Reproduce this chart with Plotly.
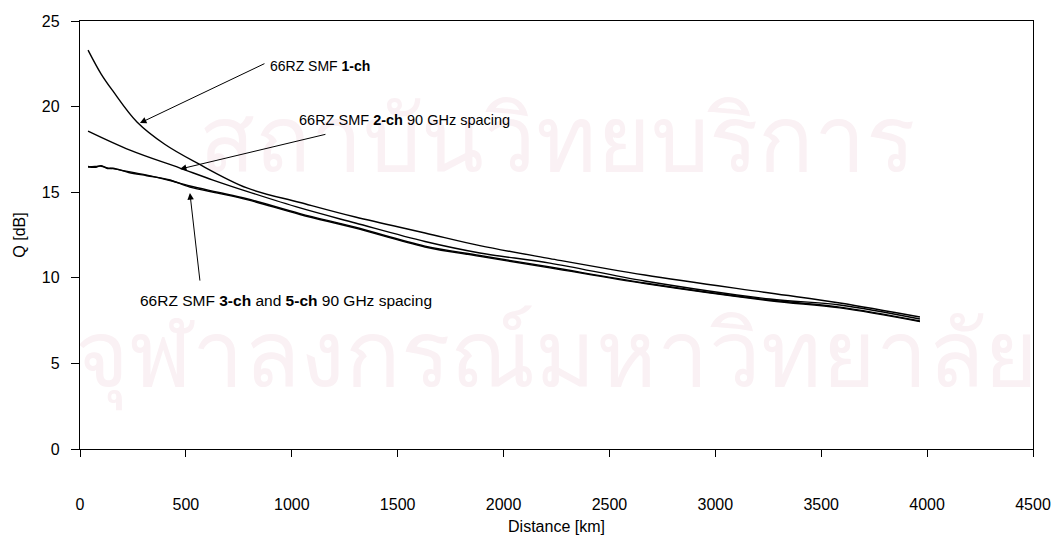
import plotly.graph_objects as go

# Distance [km] and Q [dB] values
dist_1ch = [38, 100, 156, 269, 400, 552, 788, 1039, 1300, 1629, 1888, 2219, 2667, 3257, 3588, 3966]
q_1ch = [23.3, 21.9, 20.9, 19.1, 17.8, 16.71, 15.25, 14.4, 13.55, 12.62, 11.88, 11.12, 10.16, 9.11, 8.53, 7.71]

dist_2ch = [38, 236, 472, 628, 788, 1039, 1300, 1629, 1888, 2219, 2667, 3257, 3588, 3966]
q_2ch = [18.57, 17.46, 16.41, 15.71, 15.05, 14.08, 13.2, 12.12, 11.45, 10.86, 9.81, 8.76, 8.41, 7.59]

dist_3ch = [38, 70, 100, 130, 156, 230, 316, 420, 519, 650, 788, 1039, 1300, 1629, 1888, 2219, 2667, 3257, 3588, 3966]
q_3ch = [16.47, 16.5, 16.52, 16.42, 16.38, 16.2, 16.0, 15.7, 15.36, 15.0, 14.62, 13.75, 12.95, 11.85, 11.3, 10.63, 9.7, 8.7, 8.29, 7.48]

q_5ch = [16.5, 16.45, 16.55, 16.38, 16.4, 16.15, 15.96, 15.73, 15.3, 14.95, 14.57, 13.7, 12.9, 11.8, 11.25, 10.58, 9.66, 8.66, 8.24, 7.44]

x_ticks = [0, 500, 1000, 1500, 2000, 2500, 3000, 3500, 4000, 4500]
y_ticks = [0, 5, 10, 15, 20, 25]

watermark_text = ["สถาบันวิทยบริการ", "จุฬาลงกรณ์มหาวิทยาลัย"]
watermark_x = [2250, 2250]
watermark_y = [17.6, 5.0]

FONT = "Liberation Sans, Arial, sans-serif"

fig = go.Figure()
# faint watermark drawn first so the curves sit on top
fig.add_trace(go.Scatter(x=watermark_x, y=watermark_y, mode="text", text=watermark_text,
                         textfont=dict(size=92, color="#faf1f4", family="Noto Sans, sans-serif"),
                         showlegend=False, hoverinfo="skip", cliponaxis=False))

for xs, ys in [(dist_1ch, q_1ch), (dist_2ch, q_2ch), (dist_3ch, q_3ch), (dist_3ch, q_5ch)]:
    fig.add_trace(go.Scatter(x=xs, y=ys, mode="lines",
                             line=dict(color="black", width=1.4, shape="spline", smoothing=1.0),
                             showlegend=False, hoverinfo="skip"))

# arrows
arrows = [
    (283, 19.04, 878, 22.55),
    (472, 16.35, 1166, 18.4),
    (519, 14.95, 567, 9.75),
]
for hx, hy, tx, ty in arrows:
    fig.add_annotation(x=hx, y=hy, ax=tx, ay=ty, xref="x", yref="y", axref="x", ayref="y",
                       text="", showarrow=True, arrowhead=2, arrowsize=1.3, arrowwidth=1,
                       arrowcolor="black", standoff=0)

labels = [
    (888, 22.4, "66RZ SMF <b>1-ch</b>", 14),
    (1024, 19.2, "66RZ SMF <b>2-ch</b> 90 GHz spacing", 14.5),
    (274, 8.7, "66RZ SMF <b>3-ch</b> and <b>5-ch</b> 90 GHz spacing", 15.5),
]
for lx, ly, t, fs in labels:
    fig.add_annotation(x=lx, y=ly, xref="x", yref="y", text=t, showarrow=False,
                       xanchor="left", yanchor="middle",
                       font=dict(size=fs, color="black", family=FONT))

fig.update_layout(
    width=1053, height=536,
    margin=dict(l=80, r=20, t=21, b=87),
    paper_bgcolor="white", plot_bgcolor="rgba(0,0,0,0)",
    font=dict(family=FONT, size=16, color="black"),
)
fig.update_xaxes(range=[0, 4500], tickvals=x_ticks, ticktext=[str(v) for v in x_ticks],
                 showgrid=False, zeroline=False, showline=True, linecolor="black", linewidth=1.3,
                 mirror=True, ticks="outside", ticklen=7, tickcolor="black", tickwidth=1.3,
                 ticklabelstandoff=34, automargin=False,
                 title=dict(text="Distance [km]", standoff=8, font=dict(size=16)))
fig.update_yaxes(range=[0, 25], tickvals=y_ticks, ticktext=[str(v) for v in y_ticks],
                 showgrid=False, zeroline=False, showline=True, linecolor="black", linewidth=1.3,
                 mirror=True, ticks="outside", ticklen=8, tickcolor="black", tickwidth=1.3,
                 ticklabelstandoff=8, automargin=False,
                 title=dict(text="Q [dB]", standoff=12, font=dict(size=16)))

fig.write_html("out.html")
